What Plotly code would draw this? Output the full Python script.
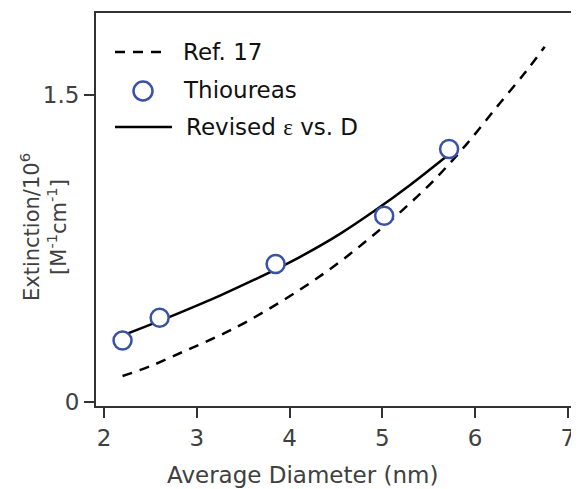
import plotly.graph_objects as go

# Data
thio_x = [2.20, 2.60, 3.85, 5.02, 5.72]
thio_y = [0.300, 0.412, 0.674, 0.910, 1.236]

revised_x = [2.20, 2.50, 2.82, 3.25, 3.68, 4.11, 4.54, 4.92, 5.30, 5.72]
revised_y = [0.325, 0.378, 0.437, 0.520, 0.610, 0.708, 0.820, 0.935, 1.060, 1.210]

ref17_x = [2.20, 2.50, 2.85, 3.20, 3.55, 4.10, 4.50, 4.85, 5.20, 5.55, 5.90, 6.25, 6.55, 6.75]
ref17_y = [0.127, 0.175, 0.245, 0.315, 0.395, 0.545, 0.670, 0.795, 0.930, 1.080, 1.255, 1.450, 1.615, 1.735]

x_ticks = [2, 3, 4, 5, 6, 7]
y_ticks = [0, 1.5]
y_ticktext = ["0", "1.5"]

legend_names = ["Ref. 17", "Thioureas",
                'Revised <span style="font-family:Liberation Serif, Times New Roman, serif">ε</span> vs. D']

FONT = "DejaVu Sans, Liberation Sans, Arial, sans-serif"
AXC = "#333333"
TXT = "#404040"
BLUE = "#3a52a6"

# plot-area geometry in page pixels (for placing legend keys / titles)
PL, PW, PB, PH = 96, 483, 406, 393


def px(x):
    return (x - PL) / PW


def py(y):
    return (PB - y) / PH


fig = go.Figure()
fig.add_trace(go.Scatter(x=ref17_x, y=ref17_y, mode="lines", name=legend_names[0],
                         line=dict(color="black", width=2.5, dash="10px,8px"),
                         line_shape="spline", showlegend=False))
fig.add_trace(go.Scatter(x=revised_x, y=revised_y, mode="lines", name=legend_names[2],
                         line=dict(color="black", width=2.5), line_shape="spline",
                         showlegend=False))
fig.add_trace(go.Scatter(x=thio_x, y=thio_y, mode="markers", name=legend_names[1],
                         marker=dict(symbol="circle", size=18, color="white",
                                     line=dict(color=BLUE, width=2.5)),
                         showlegend=False))

# legend keys (drawn as a custom legend to match the long key samples)
shapes = [
    dict(type="line", xref="paper", yref="paper", x0=px(115), x1=px(168), y0=py(52), y1=py(52),
         line=dict(color="black", width=2.5, dash="10px,8px")),
    dict(type="circle", xref="paper", yref="paper", x0=px(143 - 9.5), x1=px(143 + 9.5),
         y0=py(91 + 9.5), y1=py(91 - 9.5), fillcolor="white", line=dict(color=BLUE, width=2.5)),
    dict(type="line", xref="paper", yref="paper", x0=px(115), x1=px(172), y0=py(127), y1=py(127),
         line=dict(color="black", width=2.5)),
]

legend_ann = [
    dict(text=legend_names[0], xref="paper", yref="paper", x=px(181), y=py(52),
         xanchor="left", yanchor="middle", showarrow=False, font=dict(size=23, color="#111111")),
    dict(text=legend_names[1], xref="paper", yref="paper", x=px(181), y=py(90),
         xanchor="left", yanchor="middle", showarrow=False, font=dict(size=23, color="#111111")),
    dict(text=legend_names[2], xref="paper", yref="paper", x=px(184), y=py(127),
         xanchor="left", yanchor="middle", showarrow=False, font=dict(size=23, color="#111111")),
]

# page body has an 8px margin; the figure is sized so it fills the 579x489 window
fig.update_layout(
    width=571, height=481,
    margin=dict(l=88, r=0, t=5, b=83, autoexpand=False),
    paper_bgcolor="white", plot_bgcolor="white",
    font=dict(family=FONT, size=22, color=TXT),
    showlegend=False,
    xaxis=dict(range=[1.914, 7.12], tickvals=x_ticks, ticks="outside", ticklen=10,
               tickwidth=2, tickcolor=AXC, showline=True, linecolor=AXC, linewidth=2,
               mirror=True, showgrid=False, zeroline=False, automargin=False,
               tickfont=dict(size=23, color=TXT)),
    yaxis=dict(range=[-0.0195, 1.90], tickvals=y_ticks, ticktext=y_ticktext,
               ticks="outside", ticklen=10, tickwidth=2, tickcolor=AXC,
               showline=True, linecolor=AXC, linewidth=2, showgrid=False,
               zeroline=False, automargin=False, tickfont=dict(size=23, color=TXT)),
    shapes=shapes,
    annotations=[
        dict(text="Average Diameter (nm)", xref="paper", yref="paper",
             x=px(302), y=py(475), xanchor="center", yanchor="middle",
             showarrow=False, font=dict(size=23, color=TXT)),
        dict(text="Extinction/10<sup>6</sup><br>[M<sup>-1</sup>cm<sup>-1</sup>]",
             xref="paper", yref="paper", x=px(43), y=py(227),
             xanchor="center", yanchor="middle", textangle=-90, showarrow=False,
             font=dict(size=21, color=TXT)),
    ] + legend_ann,
)

fig.write_html("out.html")
